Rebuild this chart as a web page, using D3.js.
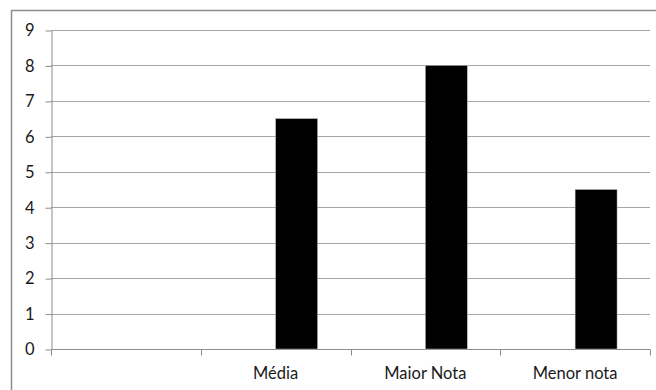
<!DOCTYPE html>
<html><head><meta charset="utf-8">
<script src="https://cdn.jsdelivr.net/npm/d3@7"></script>
<style>body{margin:0;background:#fff}svg{display:block}</style>
</head><body>
<script>
const categories = ["", "Média", "Maior Nota", "Menor nota"];
const values = [null, 6.5, 8, 4.5];
const yTicks = [0,1,2,3,4,5,6,7,8,9];

const W = 656, H = 390;
const svg = d3.select("body").append("svg").attr("width", W).attr("height", H);
svg.append("rect").attr("x", 11.5).attr("y", 10.5).attr("width", 660).attr("height", 400)
  .attr("fill", "#fff").attr("stroke", "#8c8c8c").attr("stroke-width", 1.5);

const x0 = 51, x1 = 650, yTop = 30, yBot = 349;
const x = d3.scaleBand().domain(categories.map((c,i)=>i)).range([x0, x1]).paddingInner(0).paddingOuter(0);
const y = d3.scaleLinear().domain([0, 9]).range([yBot, yTop]);
const font = "Lato, sans-serif";
const fs = 16.5;

// gridlines
svg.append("g").selectAll("line").data(yTicks.filter(t=>t>0)).join("line")
  .attr("x1", x0).attr("x2", x1).attr("y1", d=>Math.round(y(d))+0.5).attr("y2", d=>Math.round(y(d))+0.5)
  .attr("stroke", "#a6a6a6").attr("stroke-width", 1);

// y axis
const ya = svg.append("g").attr("transform", `translate(${x0+0.5},0.5)`)
  .call(d3.axisLeft(y).tickValues(yTicks).tickSize(6).tickPadding(11).tickSizeOuter(0));
ya.select(".domain").attr("stroke", "#8c8c8c");
ya.selectAll(".tick line").attr("stroke", "#8c8c8c");
ya.selectAll("text").attr("font-family", font).attr("font-size", fs).attr("fill", "#1a1a1a");

// x axis
const xa = svg.append("g").attr("transform", `translate(0,${yBot+0.5})`);
xa.append("line").attr("x1", x0).attr("x2", x1).attr("stroke", "#8c8c8c");
xa.selectAll(".tk").data(d3.range(categories.length+1)).join("line").attr("class","tk")
  .attr("x1", d=>Math.round(x0 + d*x.bandwidth())+0.5).attr("x2", d=>Math.round(x0 + d*x.bandwidth())+0.5)
  .attr("y1", 0).attr("y2", 6).attr("stroke", "#8c8c8c");
xa.selectAll("text").data(categories).join("text")
  .attr("x", (d,i)=>x(i)+x.bandwidth()/2).attr("y", 29)
  .attr("text-anchor", "middle").attr("font-family", font).attr("font-size", fs).attr("fill", "#1a1a1a")
  .text(d=>d);

// bars
const bw = x.bandwidth()*0.28;
svg.append("g").selectAll("rect").data(values.map((v,i)=>({v,i})).filter(d=>d.v!=null)).join("rect")
  .attr("x", d=>x(d.i)+x.bandwidth()/2).attr("width", bw)
  .attr("y", d=>y(d.v)).attr("height", d=>y(0)-y(d.v))
  .attr("fill", "#000").attr("stroke", "#bfbfbf").attr("stroke-width", 0.5);
</script>
</body></html>
